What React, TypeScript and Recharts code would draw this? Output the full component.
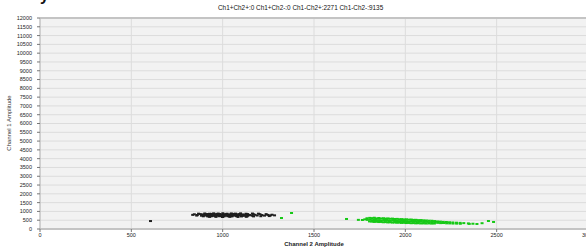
import React from 'react';
import { ScatterChart, Scatter, XAxis, YAxis, CartesianGrid, ReferenceLine } from 'recharts';

const titleText = 'Ch1+Ch2+:0 Ch1+Ch2-:0 Ch1-Ch2+:2271 Ch1-Ch2-:9135';
const xTicks = [0, 500, 1000, 1500, 2000, 2500, 3000];
const yTicks = [
  0, 500, 1000, 1500, 2000, 2500, 3000, 3500, 4000, 4500, 5000, 5500, 6000,
  6500, 7000, 7500, 8000, 8500, 9000, 9500, 10000, 10500, 11000, 11500, 12000,
];

// [Channel 2 amplitude, Channel 1 amplitude]
const doubleNegative: [number, number][] = [
  [868, 872], [902, 884], [928, 866], [951, 891], [976, 878], [1001, 895], [1024, 870], [1047, 886],
  [1071, 874], [1098, 889], [1128, 868], [1163, 880], [1196, 872],
  [845, 836], [878, 848], [896, 829], [914, 852], [935, 838], [949, 846], [967, 827], [984, 851],
  [1001, 835], [1017, 843], [1036, 829], [1054, 850], [1070, 834], [1089, 845], [1111, 831], [1137, 848],
  [1168, 837], [1204, 842], [1238, 846],
  [836, 804], [861, 796], [889, 810], [907, 792], [921, 806], [939, 798], [956, 812], [972, 790],
  [987, 804], [1004, 796], [1020, 809], [1039, 793], [1057, 803], [1075, 797], [1092, 811], [1109, 790],
  [1127, 805], [1149, 798], [1177, 808], [1214, 794], [1247, 801],
  [858, 763], [884, 757], [902, 768], [917, 752], [932, 764], [947, 756], [964, 770], [979, 751],
  [995, 762], [1011, 757], [1028, 769], [1045, 753], [1062, 765], [1080, 758], [1098, 770], [1117, 754],
  [1139, 763], [1161, 757], [1189, 767], [1229, 760], [1261, 771],
  [894, 722], [919, 714], [941, 727], [961, 716], [983, 725], [1007, 713], [1029, 724], [1051, 717],
  [1076, 728], [1103, 715], [1134, 723], [1169, 718], [1209, 726],
  [929, 688], [964, 695], [999, 682], [1039, 691], [1084, 686], [1129, 694],
  [925, 820], [945, 780], [960, 740], [970, 858], [990, 780], [1010, 822], [1030, 745], [1045, 818],
  [1065, 782], [1085, 822], [1105, 742], [1120, 782], [940, 860], [1060, 860], [980, 820], [1000, 740],
  [1015, 785], [1050, 780], [1095, 790], [955, 830],
  [1284, 776], [1270, 812], [1255, 735],
  [605, 452],
];

const ch2Positive: [number, number][] = [
  [1322, 625], [1377, 910], [1678, 570], [1743, 520], [1765, 512], [1778, 548],
  [1790, 610], [1792, 520],
  [1805, 632], [1806, 528], [1804, 430], [1818, 618], [1819, 505], [1817, 418],
  [1830, 640], [1831, 512], [1829, 402], [1842, 602], [1843, 498], [1841, 410],
  [1855, 625], [1856, 507], [1854, 396], [1867, 598], [1868, 486], [1866, 402],
  [1880, 612], [1881, 495], [1879, 384], [1892, 590], [1893, 478], [1891, 392],
  [1905, 602], [1906, 488], [1904, 375], [1917, 580], [1918, 470], [1916, 382],
  [1930, 590], [1931, 478], [1929, 366], [1942, 568], [1943, 460], [1941, 372],
  [1955, 575], [1956, 466], [1954, 355], [1968, 556], [1969, 450], [1967, 362],
  [1980, 562], [1981, 458], [1979, 346], [1993, 546], [1994, 440], [1992, 352],
  [2006, 552], [2007, 448], [2005, 338], [2019, 532], [2020, 430], [2018, 344],
  [2032, 538], [2033, 438], [2031, 330], [2045, 518], [2046, 420], [2044, 336],
  [2058, 522], [2059, 428], [2057, 322], [2072, 505], [2073, 410], [2071, 328],
  [2086, 508], [2087, 415], [2085, 316], [2100, 492], [2101, 400], [2099, 320],
  [2115, 485], [2116, 404], [2114, 312], [2130, 472], [2131, 390], [2129, 318],
  [2145, 468], [2146, 394], [2144, 308], [2160, 452], [2161, 378], [2159, 312],
  [2176, 430], [2177, 350], [2192, 420], [2193, 335], [2208, 405], [2209, 340],
  [2225, 398], [2226, 322], [2242, 385], [2243, 318], [2260, 372], [2261, 310],
  [2280, 360], [2281, 305], [2300, 350], [2301, 298], [2320, 335],
  [2345, 318], [2350, 290], [2370, 300], [2392, 285],
  [2420, 330], [2455, 455], [2483, 400],
  [1836, 560], [1861, 450], [1886, 548], [1911, 428], [1936, 528], [1961, 410], [1986, 505],
  [2011, 395], [2038, 485], [2065, 372], [1848, 455], [1898, 540], [1948, 420], [1998, 500], [2052, 470],
];

const font = '"Liberation Sans", Arial, sans-serif';

const toRows = (pts: [number, number][]) => pts.map(([ch2, ch1]) => ({ ch2, ch1 }));

const dot = (color: string) => (p: any) => (
  <rect x={p.cx - 1.5} y={p.cy - 1} width={3} height={2} fill={color} />
);

const App: React.FC = () => {
  return (
    <div style={{ position: 'fixed', top: 0, left: 0, width: 586, height: 248, overflow: 'hidden', background: '#fff' }}>
      <div style={{ position: 'absolute', left: 40, top: -13, fontFamily: font, fontWeight: 'bold', fontSize: 16, color: '#111' }}>y</div>
      <div
        style={{
          position: 'absolute', left: 218, top: 4, fontFamily: font, fontSize: 6.4,
          color: '#111', whiteSpace: 'nowrap', lineHeight: '8px',
        }}
      >
        {titleText}
      </div>
      <ScatterChart width={600} height={248} margin={{ top: 18, right: 12, bottom: 0, left: 0 }}>
        <CartesianGrid fill="#f2f2f2" stroke="#dcdcdc" strokeWidth={1} />
        <XAxis
          type="number"
          dataKey="ch2"
          domain={[0, 3000]}
          ticks={xTicks}
          interval={0}
          height={19}
          tickSize={3}
          tickMargin={1}
          axisLine={{ stroke: '#c4c4c4', strokeWidth: 2 }}
          tickLine={{ stroke: '#777' }}
          tick={{ fontSize: 5.5, fill: '#222', fontFamily: font }}
          label={{
            content: () => (
              <text x={314} y={246} textAnchor="middle" fontSize={6} fontWeight="bold" fill="#222" fontFamily={font}>
                Channel 2 Amplitude
              </text>
            ),
          }}
        />
        <YAxis
          type="number"
          dataKey="ch1"
          domain={[0, 12000]}
          ticks={yTicks}
          interval={0}
          width={40}
          tickSize={3}
          tickMargin={5}
          axisLine={{ stroke: '#b8b8b8', strokeWidth: 1 }}
          tickLine={{ stroke: '#777' }}
          tick={{ fontSize: 5.5, fill: '#222', fontFamily: font }}
          label={{
            content: () => (
              <text
                x={11}
                y={123}
                transform="rotate(-90 11 123)"
                textAnchor="middle"
                fontSize={6}
                fill="#333"
                fontFamily={font}
              >
                Channel 1 Amplitude
              </text>
            ),
          }}
        />
        <ReferenceLine y={12000} stroke="#c4c4c4" strokeWidth={2} />
        <Scatter data={toRows(doubleNegative)} fill="#1e1e1e" shape={dot('#1e1e1e')} isAnimationActive={false} />
        <Scatter data={toRows(ch2Positive)} fill="#16c916" shape={dot('#16c916')} isAnimationActive={false} />
      </ScatterChart>
    </div>
  );
};

export default App;
